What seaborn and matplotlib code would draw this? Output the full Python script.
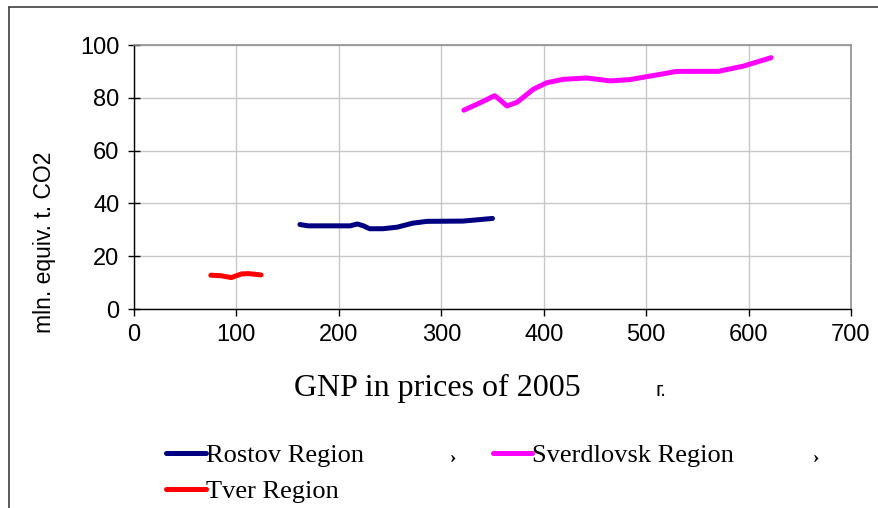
import matplotlib
matplotlib.use("Agg")
import matplotlib.pyplot as plt
import matplotlib.lines as mlines
import seaborn as sns
import pandas as pd

# ---- data ----
rostov_x = [162, 170, 190, 211, 218, 224, 230, 243, 257, 272, 286, 321, 350]
rostov_y = [32.0, 31.5, 31.5, 31.5, 32.2, 31.5, 30.4, 30.4, 31.0, 32.5, 33.2, 33.3, 34.3]

sverd_x = [322, 340, 352, 358, 364, 374, 390, 403, 419, 442, 465, 484, 505, 530, 570, 595, 622]
sverd_y = [75.3, 78.5, 80.8, 79.0, 76.9, 78.3, 83.3, 85.7, 87.0, 87.5, 86.4, 86.9, 88.3, 90.0, 90.0, 92.0, 95.2]

tver_x = [75, 85, 95, 105, 112, 124]
tver_y = [12.8, 12.6, 11.9, 13.3, 13.4, 12.9]

series_names = ["Rostov Region", "Sverdlovsk Region", "Tver Region"]
colors = {"Rostov Region": "#000080", "Sverdlovsk Region": "#FF00FF", "Tver Region": "#FF0000"}

x_ticks = [0, 100, 200, 300, 400, 500, 600, 700]
y_ticks = [0, 20, 40, 60, 80, 100]

frames = []
for name, xs, ys in [("Rostov Region", rostov_x, rostov_y),
                     ("Sverdlovsk Region", sverd_x, sverd_y),
                     ("Tver Region", tver_x, tver_y)]:
    frames.append(pd.DataFrame({"x": xs, "y": ys, "region": name}))
df = pd.concat(frames, ignore_index=True)

sns.set_style("white")
plt.rcParams["font.family"] = ["Liberation Sans", "DejaVu Sans"]
plt.rcParams["text.color"] = "black"
plt.rcParams["axes.labelcolor"] = "black"
plt.rcParams["xtick.color"] = "black"
plt.rcParams["ytick.color"] = "black"

fig = plt.figure(figsize=(8.79, 5.08), dpi=100)
ax = fig.add_axes([134 / 879, 1 - 309 / 508, (851 - 134) / 879, (309 - 45) / 508])

sns.lineplot(data=df, x="x", y="y", hue="region", palette=colors,
             hue_order=series_names, estimator=None, sort=False,
             linewidth=3.6, ax=ax, legend=False)

ax.set_xlim(0, 700)
ax.set_ylim(0, 100)
ax.set_xticks(x_ticks)
ax.set_yticks(y_ticks)
ax.grid(True, color="#c8c8c8", linewidth=1)
ax.set_axisbelow(True)
for s in ["top", "right"]:
    ax.spines[s].set_color("#909090")
    ax.spines[s].set_linewidth(1.2)
for s in ["left", "bottom"]:
    ax.spines[s].set_color("black")
    ax.spines[s].set_linewidth(1.0)
ax.tick_params(axis="y", direction="inout", length=9, width=1, labelsize=17, pad=6, left=True)
ax.tick_params(axis="x", direction="out", length=5, width=1, labelsize=17, pad=6, bottom=True)

ax.set_xlabel("")
ax.set_ylabel("")
fig.text(45 / 879, 1 - 242 / 508, "mln. equiv. t. CO2", rotation=90, ha="center", va="center",
         fontsize=16.5)

fig.text(437 / 879, 1 - 388 / 508, "GNP in prices of 2005", ha="center", va="center",
         fontsize=23, family=["Liberation Serif", "DejaVu Serif"])
fig.text(661 / 879, 1 - 391 / 508, "г.", ha="center", va="center",
         fontsize=15, family=["Liberation Sans", "DejaVu Sans"])

# legend (order chosen so ncol=2 fills rows as in reference)
handles = {n: mlines.Line2D([], [], color=colors[n], linewidth=3.6) for n in series_names}
order = ["Rostov Region", "Tver Region", "Sverdlovsk Region"]
leg = fig.legend([handles[n] for n in order], order, loc="upper left",
                 bbox_to_anchor=(166 / 879, 1 - 444 / 508), ncol=2, frameon=False,
                 prop={"family": ["Liberation Serif", "DejaVu Serif"], "size": 19},
                 handlelength=1.5, handletextpad=0.0, columnspacing=4.9,
                 labelspacing=0.45, borderpad=0, borderaxespad=0)

fig.text(453 / 879, 1 - 459 / 508, "›", ha="center", va="center", fontsize=14,
         family=["Liberation Serif", "DejaVu Serif"], fontweight="bold")
fig.text(816 / 879, 1 - 459 / 508, "›", ha="center", va="center", fontsize=14,
         family=["Liberation Serif", "DejaVu Serif"], fontweight="bold")

# outer frame lines
fig.add_artist(mlines.Line2D([9 / 879, 9 / 879], [0, 1 - 7 / 508], color="#404040", linewidth=1.2,
                             transform=fig.transFigure))
fig.add_artist(mlines.Line2D([9 / 879, 1], [1 - 7 / 508, 1 - 7 / 508], color="#404040", linewidth=1.2,
                             transform=fig.transFigure))

fig.savefig("out.png", dpi=100)
